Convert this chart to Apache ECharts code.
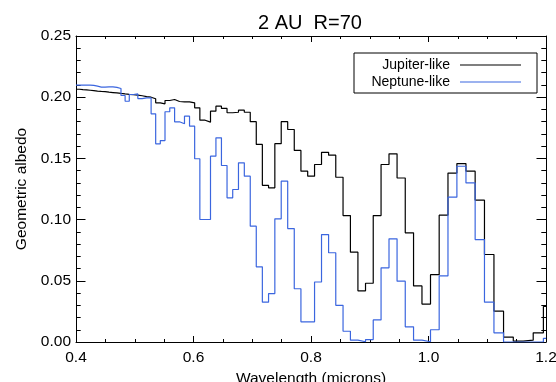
<!DOCTYPE html>
<html><head><meta charset="utf-8">
<script src="https://cdn.jsdelivr.net/npm/echarts@6/dist/echarts.min.js"></script>
<style>html,body{margin:0;padding:0;background:#fff}#c{width:556px;height:382px}</style>
</head><body><div id="c"></div>
<script>
// Bin edges in microns (left edge of each bin, last entry = right end of plotted range)
const binEdges = [
  0.4, 0.40588, 0.41185, 0.41791, 0.42405, 0.43029, 0.43662, 0.44304, 0.44955, 0.45616,
  0.46287, 0.46968, 0.47658, 0.48359, 0.49070, 0.49792, 0.50524, 0.51267, 0.52021, 0.52786,
  0.53562, 0.54350, 0.55149, 0.55960, 0.56783, 0.57618, 0.58465, 0.59325, 0.60197, 0.61082,
  0.61981, 0.62893, 0.63818, 0.64756, 0.65708, 0.66674, 0.67655, 0.68650, 0.69660, 0.70684,
  0.71720, 0.72775, 0.73845, 0.74931, 0.76033, 0.77151, 0.78286, 0.79437, 0.80605, 0.81790,
  0.82994, 0.84216, 0.85454, 0.86711, 0.87986, 0.89280, 0.90593, 0.91925, 0.93277, 0.94649,
  0.96043, 0.97455, 0.98888, 1.00342, 1.01818, 1.03315, 1.04834, 1.06376, 1.07940, 1.09527,
  1.11140, 1.12774, 1.14432, 1.16115, 1.17823, 1.19556, 1.2
];
const jupiterLike = [
  0.2065, 0.2062, 0.2060, 0.2057, 0.2054, 0.2050, 0.2047, 0.2045, 0.2041, 0.2038,
  0.2035, 0.2031, 0.2027, 0.2023, 0.2020, 0.2017, 0.2012, 0.2005, 0.2000, 0.1987,
  0.1954, 0.1946, 0.1973, 0.1981, 0.1965, 0.1962, 0.1962, 0.1954, 0.1913, 0.1812,
  0.1796, 0.1886, 0.1927, 0.1908, 0.1873, 0.1877, 0.1894, 0.1877, 0.1800, 0.1614,
  0.1280, 0.1260, 0.1620, 0.1800, 0.1736, 0.1565, 0.1396, 0.1355, 0.1450, 0.1550,
  0.1526, 0.1346, 0.1033, 0.0734, 0.0418, 0.0480, 0.1033, 0.1450, 0.1537, 0.1340,
  0.0892, 0.0458, 0.0310, 0.0550, 0.1036, 0.1380, 0.1458, 0.1396, 0.1159, 0.0715,
  0.0252, 0.0040, 0.0007, 0.0015, 0.0075, 0.0290
];
const neptuneLike = [
  0.2098, 0.2098, 0.2098, 0.2098, 0.2096, 0.2090, 0.2083, 0.2082, 0.2084, 0.2085,
  0.2080, 0.2071, 0.2014, 0.1967, 0.2022, 0.2027, 0.1989, 0.1995, 0.1995, 0.1864,
  0.1619, 0.1646, 0.1881, 0.1913, 0.1799, 0.1783, 0.1845, 0.1763, 0.1497, 0.1001,
  0.1001, 0.1518, 0.1668, 0.1442, 0.1178, 0.1246, 0.1464, 0.1355, 0.0946, 0.0614,
  0.0325, 0.0396, 0.1006, 0.1314, 0.0927, 0.0435, 0.0165, 0.0165, 0.0490, 0.0878,
  0.0729, 0.0300, 0.0088, 0.0015, 0.0002, 0.0020, 0.0180, 0.0606, 0.0843, 0.0497,
  0.0124, 0.0015, 0.0002, 0.0100, 0.0540, 0.1183, 0.1436, 0.1300, 0.0837, 0.0325,
  0.0075, 0.0000, 0.0000, 0.0000, 0.0000, 0.0030
];
const seriesNames = ['Jupiter-like', 'Neptune-like'];
const seriesColors = ['#000000', '#3b66df'];
const titleText = '2 AU  R=70';
const xName = 'Wavelength (microns)';
const yName = 'Geometric albedo';

function stepData(vals) {
  const d = vals.map((v, i) => [binEdges[i], v]);
  d.push([binEdges[binEdges.length - 1], vals[vals.length - 1]]);
  return d;
}

// legend sample: a thin horizontal bar inside a 61x14 box (tiny corner dots fix the box size)
const LEGEND_LINE_ICON = 'path://M0,0h0.01v0.01h-0.01z M60.99,13.99h0.01v0.01h-0.01z M0,6.4h61v1.2h-61z';

const FONT = "'Liberation Sans', Arial, Helvetica, sans-serif";
const axisCommonX = {
  type: 'value', min: 0.4, max: 1.2, interval: 0.2,
  axisLine: { show: true, onZero: false, lineStyle: { color: '#000', width: 1 } },
  axisTick: { show: true, inside: true, length: 6, lineStyle: { color: '#000', width: 1 } },
  minorTick: { show: true, splitNumber: 4, length: 3, lineStyle: { color: '#000', width: 1 } },
  splitLine: { show: false }, minorSplitLine: { show: false }
};
const axisCommonY = {
  type: 'value', min: 0, max: 0.25, interval: 0.05,
  axisLine: { show: true, onZero: false, lineStyle: { color: '#000', width: 1 } },
  axisTick: { show: true, inside: true, length: 9.5, lineStyle: { color: '#000', width: 1 } },
  minorTick: { show: true, splitNumber: 5, length: 4.7, lineStyle: { color: '#000', width: 1 } },
  splitLine: { show: false }, minorSplitLine: { show: false }
};

const chart = echarts.init(document.getElementById('c'), null, { renderer: 'canvas' });
chart.setOption({
  animation: false,
  backgroundColor: '#fff',
  title: {
    text: titleText, left: 258, top: 13, padding: 0,
    textStyle: { fontFamily: FONT, fontSize: 20, fontWeight: 'normal', color: '#000' }
  },
  grid: { left: 76, right: 10, top: 36, bottom: 40, containLabel: false, outerBoundsMode: 'none' },
  legend: {
    left: 354, top: 53, orient: 'vertical', align: 'right',
    padding: [5, 16, 4, 4], borderColor: '#000', borderWidth: 1, borderRadius: 0,
    backgroundColor: '#fff',
    itemWidth: 61, itemHeight: 14, itemGap: 3,
    icon: LEGEND_LINE_ICON,
    textStyle: { fontFamily: FONT, fontSize: 14, color: '#000', width: 92, align: 'right', lineHeight: 14,
      padding: [0, 5, 0, 0] },
    data: seriesNames.map(n => ({ name: n, icon: LEGEND_LINE_ICON }))
  },
  xAxis: [
    Object.assign({}, axisCommonX, {
      position: 'bottom',
      name: xName, nameLocation: 'middle', nameGap: 29,
      nameTextStyle: { fontFamily: FONT, fontSize: 15.5, color: '#000' },
      axisLabel: { show: true, margin: 8, fontFamily: FONT, fontSize: 15.5, color: '#000',
        formatter: v => v.toFixed(1) }
    }),
    Object.assign({}, axisCommonX, { position: 'top', axisLabel: { show: false } })
  ],
  yAxis: [
    Object.assign({}, axisCommonY, {
      position: 'left',
      name: yName, nameLocation: 'middle', nameGap: 38, nameRotate: 90,
      nameTextStyle: { fontFamily: FONT, fontSize: 15.5, color: '#000' },
      axisLabel: { show: true, margin: 5, fontFamily: FONT, fontSize: 15.5, color: '#000',
        formatter: v => v.toFixed(2) }
    }),
    Object.assign({}, axisCommonY, { position: 'right', axisLabel: { show: false } })
  ],
  series: [
    {
      name: seriesNames[0], type: 'line', step: 'end', xAxisIndex: 0, yAxisIndex: 0,
      data: stepData(jupiterLike), symbol: 'none', clip: true,
      lineStyle: { color: seriesColors[0], width: 1.2 }, itemStyle: { color: seriesColors[0] }
    },
    {
      name: seriesNames[1], type: 'line', step: 'end', xAxisIndex: 0, yAxisIndex: 0,
      data: stepData(neptuneLike), symbol: 'none', clip: true,
      lineStyle: { color: seriesColors[1], width: 1.2 }, itemStyle: { color: seriesColors[1] }
    }
  ]
});
</script>
</body></html>
